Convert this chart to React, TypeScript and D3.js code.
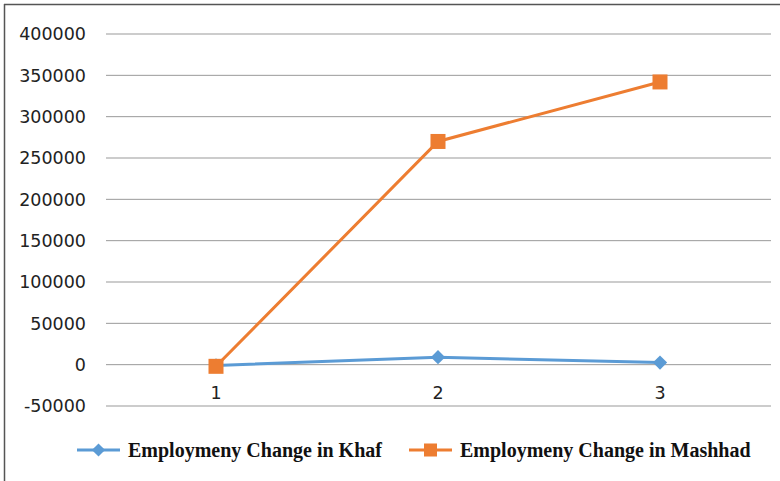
import React, { useEffect, useRef } from "react";
import * as d3 from "d3";

const categories = ["1", "2", "3"];
const khafValues = [-1000, 9000, 2500];
const mashhadValues = [-2000, 270000, 342000];
const yTicks = [-50000, 0, 50000, 100000, 150000, 200000, 250000, 300000, 350000, 400000];
const seriesNames = ["Employmeny Change in Khaf", "Employmeny Change in Mashhad"];

const App = () => {
  const svgRef = useRef<SVGSVGElement | null>(null);

  useEffect(() => {
    const width = 780;
    const height = 481;
    const margin = { top: 34, right: 9, bottom: 75, left: 105 };
    const tickFont = "'DejaVu Sans', 'Open Sans', sans-serif";

    const svg = d3.select(svgRef.current);
    svg.selectAll("*").remove();
    svg.attr("width", width).attr("height", height);

    // chart frame (top + left edge only visible)
    svg.append("rect").attr("width", width).attr("height", height).attr("fill", "#fff");
    svg.append("line").attr("x1", 4).attr("x2", width).attr("y1", 4.5).attr("y2", 4.5)
      .attr("stroke", "#555").attr("stroke-width", 1.5);
    svg.append("line").attr("x1", 4.5).attr("x2", 4.5).attr("y1", 4).attr("y2", height)
      .attr("stroke", "#555").attr("stroke-width", 1.5);

    const x = d3.scaleBand().domain(categories).range([margin.left, width - margin.right]);
    const y = d3.scaleLinear().domain([-50000, 400000]).range([406, 34]);

    // gridlines
    svg.append("g")
      .selectAll("line")
      .data(yTicks)
      .join("line")
      .attr("x1", margin.left + 1)
      .attr("x2", width - margin.right)
      .attr("y1", (d) => y(d))
      .attr("y2", (d) => y(d))
      .attr("stroke", "#999")
      .attr("stroke-width", 1);

    // y tick labels
    svg.append("g")
      .selectAll("text")
      .data(yTicks)
      .join("text")
      .attr("x", 86)
      .attr("y", (d) => y(d))
      .attr("dy", "0.36em")
      .attr("text-anchor", "end")
      .attr("font-family", tickFont)
      .attr("font-size", 17.5)
      .attr("fill", "#222")
      .text((d) => String(d));

    // x category labels
    svg.append("g")
      .selectAll("text")
      .data(categories)
      .join("text")
      .attr("x", (d) => x(d)! + x.bandwidth() / 2)
      .attr("y", 393)
      .attr("dy", "0.36em")
      .attr("text-anchor", "middle")
      .attr("font-family", tickFont)
      .attr("font-size", 17.5)
      .attr("fill", "#222")
      .text((d) => d);

    const cx = (i: number) => x(categories[i])! + x.bandwidth() / 2;
    const line = d3.line<number>().x((_, i) => cx(i)).y((d) => y(d));

    // Khaf series
    svg.append("path")
      .datum(khafValues)
      .attr("d", line)
      .attr("fill", "none")
      .attr("stroke", "#5b9bd5")
      .attr("stroke-width", 3);
    svg.append("g")
      .selectAll("path")
      .data(khafValues)
      .join("path")
      .attr("d", d3.symbol(d3.symbolDiamond2, 130)())
      .attr("transform", (d, i) => `translate(${cx(i)},${y(d)})`)
      .attr("fill", "#5b9bd5");

    // Mashhad series
    svg.append("path")
      .datum(mashhadValues)
      .attr("d", line)
      .attr("fill", "none")
      .attr("stroke", "#ed7d31")
      .attr("stroke-width", 3);
    svg.append("g")
      .selectAll("rect")
      .data(mashhadValues)
      .join("rect")
      .attr("x", (d, i) => cx(i) - 7.5)
      .attr("y", (d) => y(d) - 7.5)
      .attr("width", 15)
      .attr("height", 15)
      .attr("fill", "#ed7d31");

    // legend
    const legendY = 450;
    const items = [
      { name: seriesNames[0], color: "#5b9bd5", x0: 77, marker: "diamond" },
      { name: seriesNames[1], color: "#ed7d31", x0: 409, marker: "square" },
    ];
    items.forEach((it) => {
      const g = svg.append("g").attr("transform", `translate(${it.x0},${legendY})`);
      g.append("line").attr("x1", 0).attr("x2", 43).attr("y1", 0).attr("y2", 0)
        .attr("stroke", it.color).attr("stroke-width", 3);
      if (it.marker === "diamond") {
        g.append("path").attr("d", d3.symbol(d3.symbolDiamond2, 110)())
          .attr("transform", "translate(21.5,0)").attr("fill", it.color);
      } else {
        g.append("rect").attr("x", 15).attr("y", -6.5).attr("width", 13).attr("height", 13)
          .attr("fill", it.color);
      }
      g.append("text")
        .attr("x", 51)
        .attr("y", 0)
        .attr("dy", "0.35em")
        .attr("font-family", "'Liberation Serif', 'Times New Roman', serif")
        .attr("font-weight", "bold")
        .attr("font-size", 20)
        .attr("fill", "#111")
        .text(it.name);
    });
  }, []);

  return <svg ref={svgRef} style={{ position: "absolute", left: 0, top: 0 }} />;
};

export default App;
